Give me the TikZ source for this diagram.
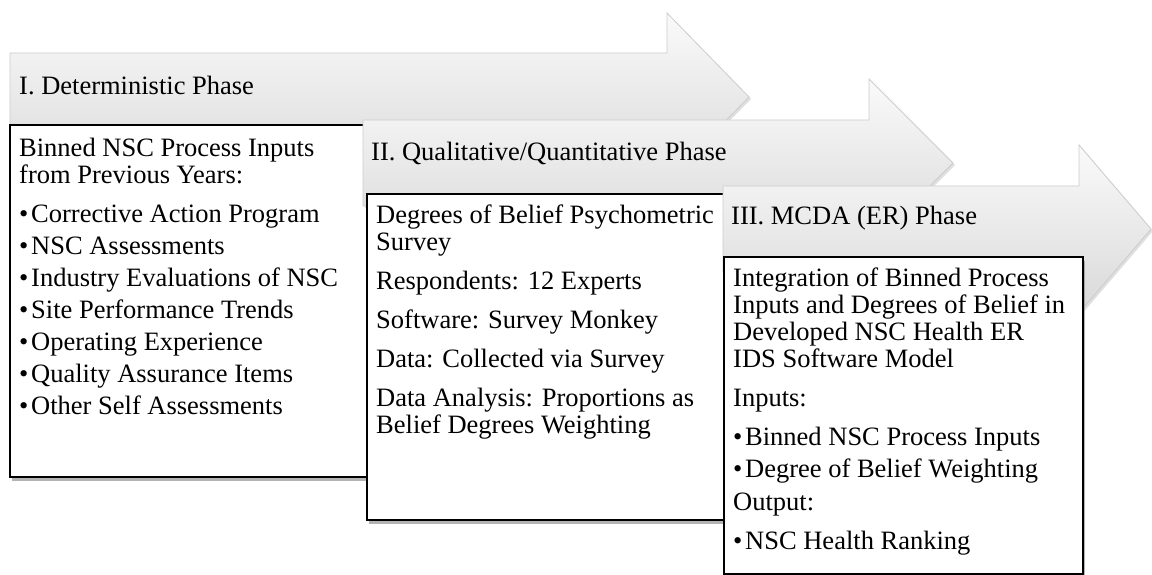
\documentclass[tikz,border=0pt]{standalone}
\usepackage{fontspec}
\setmainfont{Liberation Serif}
\usetikzlibrary{shadows}
\begin{document}
\begin{tikzpicture}[x=1pt,y=-1pt,
    phase/.style={draw=black!20,line width=0.8pt,top color=black!2,bottom color=black!15,
      drop shadow={shadow xshift=2pt,shadow yshift=-2pt,opacity=0.25}},
    panel/.style={draw=black,line width=2.8pt,fill=white,
      drop shadow={shadow xshift=1.5pt,shadow yshift=-3.5pt,opacity=0.6}},
    txt/.style={inner sep=0pt,font=\fontsize{26.5}{27}\selectfont,align=left}]
      % Bullet line
      \newcommand\pbullet[1]{\makebox[12pt][l]{\textbullet}#1}
      \useasboundingbox (0,0) rectangle (1152,575);

      % Phase I
      \path[phase] (10,53) -- (667,53) -- (667,13) -- (749,97) -- (667,181)
        -- (667,141) -- (10,141) -- cycle;
      \node[txt,anchor=base west] (h1) at (19,95) {I. Deterministic Phase};
      \path[panel] (10,125) rectangle (375,477);
      \node[txt,anchor=north west] (t1) at (19,137) {\rule{0pt}{19pt}Binned NSC Process Inputs\\
        from Previous Years:\\[12pt]
        \pbullet{Corrective Action Program}\\[5pt]
        \pbullet{NSC Assessments}\\[5pt]
        \pbullet{Industry Evaluations of NSC}\\[5pt]
        \pbullet{Site Performance Trends}\\[5pt]
        \pbullet{Operating Experience}\\[5pt]
        \pbullet{Quality Assurance Items}\\[5pt]
        \pbullet{Other Self Assessments}};

      % Phase II
      \path[phase] (363,120) -- (869,120) -- (869,79) -- (953,163) -- (869,247)
        -- (869,206) -- (363,206) -- cycle;
      \node[txt,anchor=base west] (h2) at (371,161) {II. Qualitative/Quantitative Phase};
      \path[panel] (367,194) rectangle (735,520);
      \node[txt,anchor=north west] (t2) at (376,204) {\rule{0pt}{19pt}Degrees of Belief Psychometric\\
        Survey\\[12pt]
        Respondents: 12 Experts\\[12pt]
        Software: Survey Monkey\\[12pt]
        Data: Collected via Survey\\[12pt]
        Data Analysis: Proportions as\\
        Belief Degrees Weighting};

      % Phase III
      \path[phase] (723,186) -- (1079,186) -- (1079,145) -- (1151,229) -- (1079,313)
        -- (1079,272) -- (723,272) -- cycle;
      \node[txt,anchor=base west] (h3) at (731,225) {III. MCDA (ER) Phase};
      \path[panel] (724,257) rectangle (1083,574);
      \node[txt,anchor=north west] (t3) at (733,267) {\rule{0pt}{19pt}Integration of Binned Process\\
        Inputs and Degrees of Belief in\\
        Developed NSC Health ER\\
        IDS Software Model\\[12pt]
        Inputs:\\[12pt]
        \pbullet{Binned NSC Process Inputs}\\[5pt]
        \pbullet{Degree of Belief Weighting}\\[6pt]
        Output:\\[12pt]
        \pbullet{NSC Health Ranking}};
    \end{tikzpicture}
\end{document}
